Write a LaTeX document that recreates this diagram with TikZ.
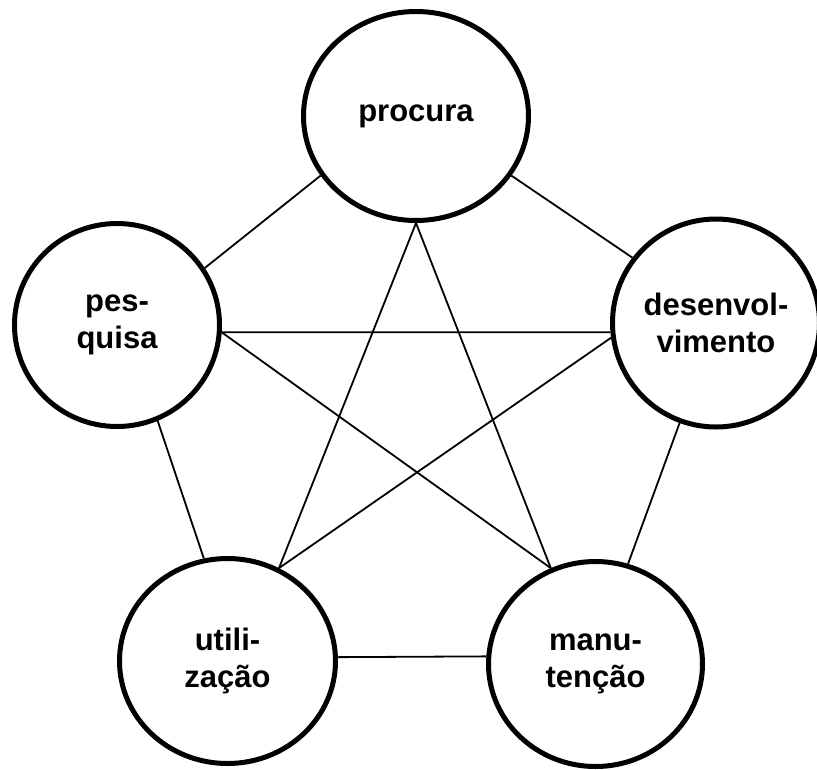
\documentclass[tikz,border=0pt]{standalone}
\usepackage{fontspec}
\setmainfont{Liberation Sans}
\usetikzlibrary{shapes.geometric}
\begin{document}
\begin{tikzpicture}[x=1pt,y=-1pt,
  area/.style={ellipse,draw,line width=5pt,fill=white,inner sep=0pt,
    align=center,font=\fontsize{31}{37}\selectfont\bfseries},
  link/.style={line width=1.8pt}]
\useasboundingbox (0,0) rectangle (817,769);
% the five activity circles
\node[area,minimum width=225,minimum height=209] (procura) at (416,116) {procura};
\node[area,minimum width=205,minimum height=203] (pesquisa) at (117,325) {pes-\\quisa};
\node[area,minimum width=207,minimum height=208] (desenv) at (716,323) {desenvol-\\vimento};
\node[area,minimum width=216,minimum height=205] (utiliz) at (227.5,661) {utili-\\zação};
\node[area,minimum width=214,minimum height=205] (manut) at (595.5,664) {manu-\\tenção};
% outer ring of links
\draw[link] (procura.212) -- (pesquisa.33);
\draw[link] (procura.328) -- (desenv.142);
\draw[link] (pesquisa.293) -- (utiliz.103);
\draw[link] (desenv.250) -- (manut.72);
\draw[link] (utiliz.2) -- (manut.176.5);
% inner star of links
\draw[link] (procura.270) -- (utiliz.61);
\draw[link] (procura.270) -- (manut.115);
\draw[link] (pesquisa.356) -- (desenv.185);
\draw[link] (pesquisa.356) -- (manut.115);
\draw[link] (desenv.188) -- (utiliz.61);
\end{tikzpicture}
\end{document}
